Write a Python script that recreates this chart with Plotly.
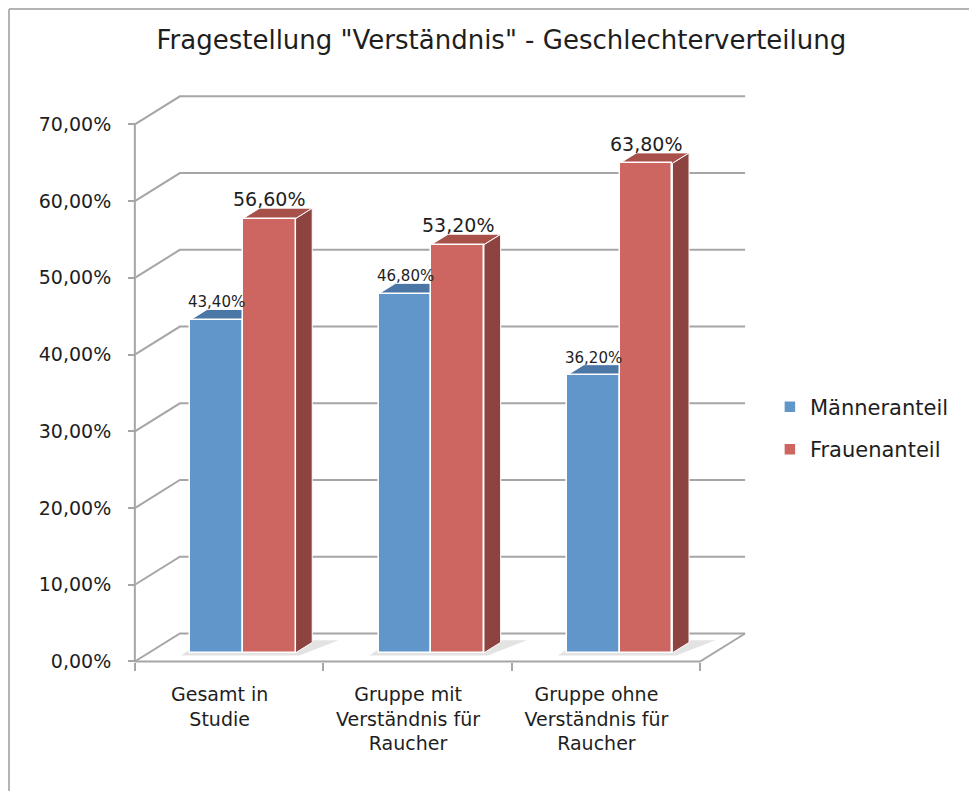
import plotly.graph_objects as go

# ---------------- data ----------------
categories = ["Gesamt in<br>Studie",
              "Gruppe mit<br>Verständnis für<br>Raucher",
              "Gruppe ohne<br>Verständnis für<br>Raucher"]
series_names = ["Männeranteil", "Frauenanteil"]
maenner = [43.4, 46.8, 36.2]
frauen = [56.6, 53.2, 63.8]
y_ticks = [0, 10, 20, 30, 40, 50, 60, 70]
y_ticktext = [f"{v:.2f}".replace(".", ",") + "%" for v in y_ticks]
title_text = 'Fragestellung "Verständnis" - Geschlechterverteilung'

# ---------------- style / geometry ----------------
FONT = "DejaVu Sans"
TXT = "#1e1e1e"
GRID = "#a6a6a6"
BLUE, BLUE_TOP = "#6096ca", "#4a77a6"
RED, RED_TOP, RED_SIDE = "#cd6560", "#a8514b", "#8d4440"

DX, DY = 0.239, 3.65       # depth of the 3D box in axis units
F0, BD = 0.31, 0.37        # bar start depth fraction, bar depth fraction
W = 0.279                  # width of each bar
sx, sy = F0 * DX, F0 * DY
bdx, bdy = BD * DX, BD * DY
n = len(categories)
YMAX = max(y_ticks)

x_blue = [i + 0.5 + sx - W / 2 for i in range(n)]
x_red = [i + 0.5 + sx + W / 2 for i in range(n)]

fig = go.Figure()
fig.add_trace(go.Bar(x=x_blue, y=maenner, base=sy, width=W, name=series_names[0],
                     legendgroup="a", marker=dict(color=BLUE, line=dict(color="white", width=1.5)),
                     hoverinfo="skip"))
fig.add_trace(go.Bar(x=x_red, y=frauen, base=sy, width=W, name=series_names[1],
                     legendgroup="b", marker=dict(color=RED, line=dict(color="white", width=1.5)),
                     hoverinfo="skip"))

shapes = []

def poly(pts, fill, line_color=None, lw=0, opacity=1.0):
    path = "M " + " L ".join(f"{x},{y}" for x, y in pts) + " Z"
    shapes.append(dict(type="path", path=path, xref="x", yref="y", fillcolor=fill,
                       line=dict(color=line_color or fill, width=lw), layer="below",
                       opacity=opacity))

def pline(pts, color=GRID, width=2):
    path = "M " + " L ".join(f"{x},{y}" for x, y in pts)
    shapes.append(dict(type="path", path=path, xref="x", yref="y",
                       line=dict(color=color, width=width), layer="below"))

# back wall gridlines + side wall diagonals
for v in y_ticks:
    pline([(0, v), (DX, v + DY), (n + DX, v + DY)])
# floor: front edge and right edge
pline([(0, 0), (n, 0), (n + DX, DY)])
# front value axis
pline([(0, 0), (0, YMAX)])

# floor shadows
for i in range(n):
    xl = x_blue[i] - W / 2
    xr = x_red[i] + W / 2
    poly([(xl - 0.05, sy - 0.35), (xr + 0.02, sy - 0.35), (xr + bdx + 0.14, sy + bdy + 0.3),
          (xl + bdx - 0.02, sy + bdy + 0.3)], "#c8c8c8", opacity=0.5)

# 3D faces
for i in range(n):
    bl, br = x_blue[i] - W / 2, x_blue[i] + W / 2
    rl, rr = x_red[i] - W / 2, x_red[i] + W / 2
    tb = sy + maenner[i]
    tr = sy + frauen[i]
    poly([(bl, tb), (br, tb), (br + bdx, tb + bdy), (bl + bdx, tb + bdy)], BLUE_TOP, "white", 1)
    poly([(rr, sy), (rr, tr), (rr + bdx, tr + bdy), (rr + bdx, sy + bdy)], RED_SIDE, "white", 1)
    poly([(rl, tr), (rr, tr), (rr + bdx, tr + bdy), (rl + bdx, tr + bdy)], RED_TOP, "white", 1)

# data labels
annotations = []
for i in range(n):
    for xs, vals, size in ((x_blue, maenner, 15), (x_red, frauen, 19)):
        annotations.append(dict(
            x=xs[i], y=sy + vals[i] + bdy, xref="x", yref="y",
            text=f"{vals[i]:.2f}".replace(".", ",") + "%", showarrow=False,
            yanchor="bottom", xanchor="center", yshift=-4,
            font=dict(family=FONT, size=size, color=TXT)))

PAGE_OFF = 8   # browser body margin
L, PW = 116 - PAGE_OFF, 650
T, PH = 86 - PAGE_OFF, 587

# outer chart frame (top and left edges visible)
fx = (PAGE_OFF + 1 - 116) / PW
fy = (673 - PAGE_OFF - 1) / PH
shapes.append(dict(type="line", xref="paper", yref="paper", x0=fx, x1=1.5, y0=fy, y1=fy,
                   line=dict(color="#b4b4b4", width=2), layer="above"))
shapes.append(dict(type="line", xref="paper", yref="paper", x0=fx, x1=fx, y0=fy, y1=-0.3,
                   line=dict(color="#b4b4b4", width=2), layer="above"))

fig.update_layout(
    width=977, height=791,
    margin=dict(l=L, r=977 - L - PW, t=T, b=791 - T - PH),
    paper_bgcolor="white", plot_bgcolor="white",
    font=dict(family=FONT, color=TXT),
    title=dict(text=title_text, x=0.505, xanchor="center", y=1 - (40 - PAGE_OFF) / 791,
               yanchor="middle", font=dict(family=FONT, size=26, color=TXT)),
    showlegend=True,
    legend=dict(x=1.006, y=0.417, xanchor="left", yanchor="middle", traceorder="grouped",
                tracegroupgap=12, font=dict(family=FONT, size=21, color=TXT),
                bgcolor="rgba(0,0,0,0)"),
    shapes=shapes, annotations=annotations,
    bargap=0,
)
fig.update_xaxes(range=[-0.1, 3.35], tickvals=[i + 0.45 for i in range(n)], ticktext=categories,
                 ticks="", showgrid=False, zeroline=False, showline=False,
                 anchor="free", position=11 / PH,
                 tickfont=dict(family=FONT, size=19, color=TXT), ticklabelstandoff=19,
                 minor=dict(tickvals=list(range(n + 1)), ticks="outside", ticklen=8,
                            tickwidth=2, tickcolor=GRID, showgrid=False))
fig.update_yaxes(range=[-1.5, 75], tickvals=y_ticks, ticktext=y_ticktext,
                 ticks="outside", ticklen=7, tickwidth=2, tickcolor=GRID,
                 showgrid=False, zeroline=False, showline=False,
                 anchor="free", position=19 / PW,
                 tickfont=dict(family=FONT, size=19, color=TXT), ticklabelstandoff=13)

fig.write_html("out.html")
